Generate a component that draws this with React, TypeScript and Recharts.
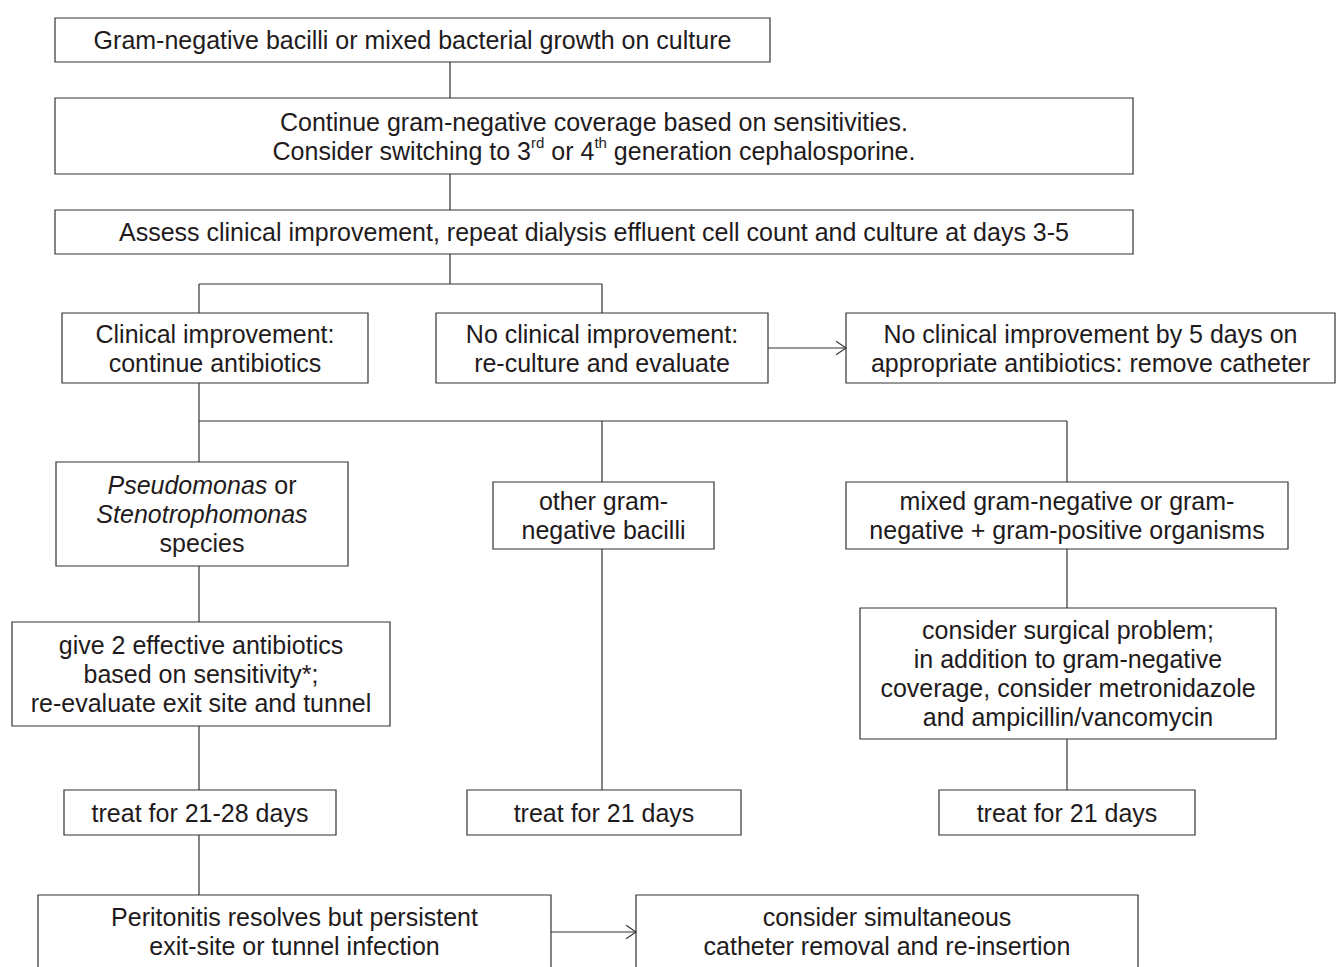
import React from "react";
import { ComposedChart, XAxis, YAxis, ReferenceArea, ReferenceLine } from "recharts";

const WIDTH = 1336;
const HEIGHT = 967;

type Seg = { t: string; i?: boolean; sup?: boolean };
type Box = { x1: number; x2: number; y1: number; y2: number; lines: Seg[][] };

const p = (t: string): Seg[] => [{ t }];

// flowchart boxes, in page units (x to the right, y downward)
const boxes: Box[] = [
  { x1: 55, x2: 770, y1: 18, y2: 62, lines: [p("Gram-negative bacilli or mixed bacterial growth on culture")] },
  {
    x1: 55, x2: 1133, y1: 98, y2: 174,
    lines: [
      p("Continue gram-negative coverage based on sensitivities."),
      [
        { t: "Consider switching to 3" }, { t: "rd", sup: true }, { t: " or 4" },
        { t: "th", sup: true }, { t: " generation cephalosporine." },
      ],
    ],
  },
  { x1: 55, x2: 1133, y1: 210, y2: 254, lines: [p("Assess clinical improvement, repeat dialysis effluent cell count and culture at days 3-5")] },
  { x1: 62, x2: 368, y1: 313, y2: 383, lines: [p("Clinical improvement:"), p("continue antibiotics")] },
  { x1: 436, x2: 768, y1: 313, y2: 383, lines: [p("No clinical improvement:"), p("re-culture and evaluate")] },
  { x1: 846, x2: 1335, y1: 313, y2: 383, lines: [p("No clinical improvement by 5 days on"), p("appropriate antibiotics: remove catheter")] },
  {
    x1: 56, x2: 348, y1: 462, y2: 566,
    lines: [[{ t: "Pseudomonas", i: true }, { t: " or" }], [{ t: "Stenotrophomonas", i: true }], p("species")],
  },
  { x1: 493, x2: 714, y1: 482, y2: 549, lines: [p("other gram-"), p("negative bacilli")] },
  { x1: 846, x2: 1288, y1: 482, y2: 549, lines: [p("mixed gram-negative or gram-"), p("negative + gram-positive organisms")] },
  {
    x1: 12, x2: 390, y1: 622, y2: 726,
    lines: [p("give 2 effective antibiotics"), p("based on sensitivity*;"), p("re-evaluate exit site and tunnel")],
  },
  {
    x1: 860, x2: 1276, y1: 608, y2: 739,
    lines: [
      p("consider surgical problem;"), p("in addition to gram-negative"),
      p("coverage, consider metronidazole"), p("and ampicillin/vancomycin"),
    ],
  },
  { x1: 64, x2: 336, y1: 790, y2: 835, lines: [p("treat for 21-28 days")] },
  { x1: 467, x2: 741, y1: 790, y2: 835, lines: [p("treat for 21 days")] },
  { x1: 939, x2: 1195, y1: 790, y2: 835, lines: [p("treat for 21 days")] },
  { x1: 38, x2: 551, y1: 895, y2: 990, lines: [p("Peritonitis resolves but persistent"), p("exit-site or tunnel infection")] },
  { x1: 636, x2: 1138, y1: 895, y2: 990, lines: [p("consider simultaneous"), p("catheter removal and re-insertion")] },
];

// textual centre of the two cut-off boxes at the bottom (box continues past the page)
const textCentreY: Record<number, number> = { 14: 931, 15: 931 };

// connectors [x1, y1, x2, y2]
const connectors: number[][] = [
  [450, 62, 450, 98],
  [450, 174, 450, 210],
  [450, 254, 450, 284],
  [199, 284, 602, 284],
  [199, 284, 199, 313],
  [602, 284, 602, 313],
  [199, 383, 199, 421],
  [199, 421, 1067, 421],
  [199, 421, 199, 462],
  [602, 421, 602, 482],
  [1067, 421, 1067, 482],
  [199, 566, 199, 622],
  [1067, 549, 1067, 608],
  [602, 549, 602, 790],
  [199, 726, 199, 790],
  [1067, 739, 1067, 790],
  [199, 835, 199, 895],
];

// arrows [x1, y1, x2, y2]
const arrows: number[][] = [
  [768, 348, 846, 348],
  [551, 932, 636, 932],
];

const INK = "#1f1b1c";
const LINE = "#333";
const FONT = "'Liberation Sans', Arial, sans-serif";
const FONT_SIZE = 25;
const LINE_H = 29;

function BoxLabel(props: any) {
  const { viewBox, lines, centreY } = props;
  if (!viewBox) return null;
  const cx = viewBox.x + viewBox.width / 2;
  const cy = centreY != null ? centreY : viewBox.y + viewBox.height / 2;
  const n = lines.length;
  return (
    <g>
      {lines.map((segs: Seg[], li: number) => {
        const y = cy + (li - (n - 1) / 2) * LINE_H;
        let shifted = false;
        return (
          <text
            key={li}
            x={cx}
            y={y}
            textAnchor="middle"
            dominantBaseline="central"
            fill={INK}
            fontFamily={FONT}
            fontSize={FONT_SIZE}
          >
            {segs.map((s, si) => {
              let dy = 0;
              if (s.sup && !shifted) {
                dy = -9;
                shifted = true;
              } else if (!s.sup && shifted) {
                dy = 9;
                shifted = false;
              }
              return (
                <tspan
                  key={si}
                  dy={dy || undefined}
                  fontStyle={s.i ? "italic" : undefined}
                  fontSize={s.sup ? 15 : undefined}
                >
                  {s.t}
                </tspan>
              );
            })}
          </text>
        );
      })}
    </g>
  );
}

function ArrowShape(props: any) {
  const { x1, y1, x2, y2 } = props;
  const ang = Math.atan2(y2 - y1, x2 - x1);
  const len = 12;
  const spread = 0.6;
  const ax = x2 - len * Math.cos(ang - spread);
  const ay = y2 - len * Math.sin(ang - spread);
  const bx = x2 - len * Math.cos(ang + spread);
  const by = y2 - len * Math.sin(ang + spread);
  return (
    <g>
      <line x1={x1} y1={y1} x2={x2} y2={y2} stroke={LINE} strokeWidth={1.2} />
      <polyline points={`${ax},${ay} ${x2},${y2} ${bx},${by}`} fill="none" stroke={LINE} strokeWidth={1.1} />
    </g>
  );
}

export default function App() {
  return (
    <div style={{ position: "absolute", left: 0, top: 0, width: WIDTH, height: HEIGHT, background: "#fff", overflow: "hidden" }}>
      <ComposedChart width={WIDTH} height={HEIGHT} data={[]} margin={{ top: 0, right: 0, bottom: 0, left: 0 }}>
        <XAxis type="number" dataKey="x" domain={[0, WIDTH]} hide allowDataOverflow />
        <YAxis type="number" dataKey="y" domain={[0, HEIGHT]} reversed hide allowDataOverflow width={0} />
        {connectors.map((c, i) => (
          <ReferenceLine
            key={`c${i}`}
            segment={[{ x: c[0], y: c[1] }, { x: c[2], y: c[3] }]}
            stroke={LINE}
            strokeWidth={1.2}
            ifOverflow="visible"
          />
        ))}
        {arrows.map((a, i) => (
          <ReferenceLine
            key={`a${i}`}
            segment={[{ x: a[0], y: a[1] }, { x: a[2], y: a[3] }]}
            ifOverflow="visible"
            shape={<ArrowShape />}
          />
        ))}
        {boxes.map((b, i) => (
          <ReferenceArea
            key={`b${i}`}
            x1={b.x1}
            x2={b.x2}
            y1={b.y1}
            y2={b.y2}
            fill="#fff"
            fillOpacity={1}
            stroke={LINE}
            strokeWidth={1.2}
            ifOverflow="visible"
            label={<BoxLabel lines={b.lines} centreY={textCentreY[i]} />}
          />
        ))}
      </ComposedChart>
    </div>
  );
}
